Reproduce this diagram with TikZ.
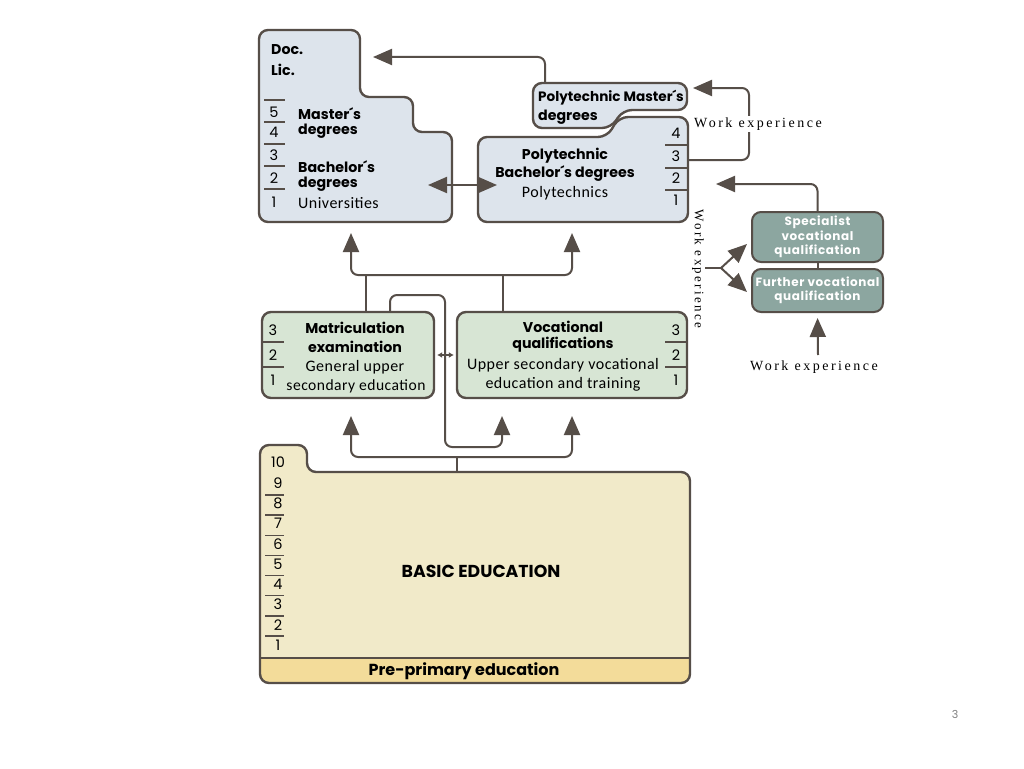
\documentclass[tikz,border=0pt]{standalone}
\usepackage{fontspec}
\setmainfont{Poppins}
\newfontfamily\condfont[LetterSpace=3]{Carlito}
\newfontfamily\workfont[LetterSpace=18]{Liberation Serif}
\newfontfamily\greyfont[LetterSpace=5]{Poppins}
\usetikzlibrary{arrows.meta}

\definecolor{edgegray}{HTML}{564E48}
\definecolor{unifill}{HTML}{DDE4EC}
\definecolor{secfill}{HTML}{D7E5D4}
\definecolor{basicfill}{HTML}{F1EAC9}
\definecolor{prefill}{HTML}{F3DC9A}
\definecolor{furtherfill}{HTML}{8CA6A0}

\tikzset{
  outline/.style={draw=edgegray, line width=2.4pt, rounded corners=9pt},
  title/.style={font=\fontsize{14.2}{16}\selectfont\bfseries, inner sep=0pt},
  cond/.style={font=\condfont\fontsize{16}{18}\selectfont, inner sep=0pt},
  num/.style={font=\fontsize{14.5}{16}\selectfont, inner sep=0pt},
  tick/.style={draw=edgegray, line width=1.4pt},
  link/.style={draw=edgegray, line width=2pt, rounded corners=7pt},
  arrow/.style={-{Triangle[length=19pt,width=16pt]}},
  twoarrow/.style={{Triangle[length=19pt,width=16pt]}-{Triangle[length=19pt,width=16pt]}},
  work/.style={font=\workfont\fontsize{14}{16}\selectfont, inner sep=2pt, fill=white},
  greybox/.style={draw=edgegray, line width=2pt, rounded corners=9pt, fill=furtherfill,
    minimum width=131pt, inner sep=0pt},
  greytext/.style={font=\greyfont\fontsize{12}{14.5}\selectfont\bfseries, text=white, align=center, inner sep=0pt}
}

\begin{document}
\begin{tikzpicture}[x=1pt, y=-1pt]
    \fill[white] (0,0) rectangle (1024,768);
    \useasboundingbox (0,0) rectangle (1024,768);

    % Universities
    \draw[outline, fill=unifill] (259,30) -- (360,30) -- (360,97) -- (413,97) -- (413,132)
        -- (452,132) -- (452,222) -- (259,222) -- cycle;
    \node[title, anchor=west] (docLabel) at (271,50) {Doc.};
    \node[title, anchor=west] (licLabel) at (271,70) {Lic.};
    \foreach \n/\y in {5/112, 4/132, 3/155, 2/178, 1/202}
        \node[num] (uniNum\n) at (274,\y) {\n};
    \foreach \y in {100, 122, 144, 166, 189}
        \draw[tick] (264,\y) -- (285,\y);
    \node[title, anchor=west] (uniMaster) at (298,114) {Master´s};
    \node[title, anchor=west] (uniMasterDeg) at (298,131) {degrees};
    \node[title, anchor=west] (uniBachelor) at (298,167) {Bachelor´s};
    \node[title, anchor=west] (uniBachelorDeg) at (298,184) {degrees};
    \node[cond, anchor=west] (uniName) at (298,203) {Universities};

    % Polytechnics
    \draw[outline, fill=unifill] (533,83) -- (687,83) -- (687,110) -- (623,110) -- (611,128)
        -- (533,128) -- cycle;
    \node[title, font=\fontsize{13.6}{15}\selectfont\bfseries, anchor=west] (polyMaster) at (538,98) {Polytechnic Master´s};
    \node[title, anchor=west] (polyMasterDeg) at (538,117) {degrees};
    \draw[outline, fill=unifill] (478,137) -- (607,137) -- (619,117) -- (688,117) -- (688,222)
        -- (478,222) -- cycle;
    \node[title] (polyTitle) at (565,156) {Polytechnic};
    \node[title] (polyBachelor) at (565,174) {Bachelor´s degrees};
    \node[cond] (polyName) at (565,193) {Polytechnics};
    \foreach \n/\y in {4/133, 3/156, 2/178, 1/200}
        \node[num] (polyNum\n) at (676,\y) {\n};
    \foreach \y in {145, 168, 190}
        \draw[tick] (665,\y) -- (687,\y);

    % Upper secondary
    \node[draw=edgegray, line width=2.4pt, rounded corners=9pt, fill=secfill, minimum width=172pt,
        minimum height=86pt] (matric) at (348,355) {};
    \node[draw=edgegray, line width=2.4pt, rounded corners=9pt, fill=secfill, minimum width=230pt,
        minimum height=86pt] (voc) at (572,355) {};
    \foreach \n/\y in {3/330, 2/355, 1/380} {
        \node[num] (matricNum\n) at (273,\y) {\n};
        \node[num] (vocNum\n) at (676,\y) {\n};
    }
    \foreach \y in {342, 367} {
        \draw[tick] (263,\y) -- (284,\y);
        \draw[tick] (665,\y) -- (687,\y);
    }
    \node[title] (matricTitle) at (355,328) {Matriculation};
    \node[title] (matricExam) at (355,347) {examination};
    \node[cond] (matricGen) at (355,367) {General upper};
    \node[cond, font=\condfont\fontsize{15.6}{18}\selectfont] (matricSec) at (356,386) {secondary education};
    \node[title] (vocTitle) at (563,327) {Vocational};
    \node[title] (vocQual) at (563,345) {qualifications};
    \node[cond] (vocUpper) at (563,365) {Upper secondary vocational};
    \node[cond] (vocTrain) at (563,384) {education and training};

    % Basic education
    \def\basicpath{(260,445) -- (307,445) -- (307,472) -- (690,472) -- (690,683) -- (260,683) -- cycle}
    \fill[basicfill, rounded corners=9pt] \basicpath;
    \begin{scope}
        \clip[rounded corners=9pt] \basicpath;
        \fill[prefill] (250,658) rectangle (700,690);
    \end{scope}
    \draw[edgegray, line width=2pt] (260,658) -- (690,658);
    \draw[outline] \basicpath;
    \node[num] (basicNum10) at (278,462) {10};
    \foreach \n in {9,...,1}
        \node[num] (basicNum\n) at (278,{483+(9-\n)*20.25}) {\n};
    \foreach \k in {0,...,7}
        \draw[tick] (265,{495+\k*20.15}) -- (284,{495+\k*20.15});
    \node[font=\fontsize{17.3}{19}\selectfont\bfseries, inner sep=0pt] (basicTitle) at (481,571) {BASIC EDUCATION};
    \node[font=\fontsize{16}{18}\selectfont\bfseries, inner sep=0pt] (preTitle) at (464,671) {Pre-primary education};

    % Further vocational
    \node[greybox, minimum height=50pt] (spec) at (817.5,237) {};
    \node[greytext] (specText) at (spec) {Specialist\\vocational\\qualification};
    \node[greybox, minimum height=43pt] (further) at (817.5,290.5) {};
    \node[greytext] (furtherText) at (further) {Further vocational\\qualification};
    \draw[link] (spec.south) -- (further.north);

    % Connectors
    \coordinate (docTip) at (373,57);
    \coordinate (masterTop) at (545,83);
    \draw[link, arrow] (masterTop) |- (docTip);

    \coordinate (bachRight) at (688,160);
    \coordinate (masterTip) at (693,88);
    \draw[link, arrow] (bachRight) -- (749,160) -- (749,88) -- (masterTip);
    \node[work] (workTop) at (758,124) {Work experience};

    \coordinate (bachTip) at (716,184);
    \draw[link, arrow] (spec.north) |- (bachTip);

    \coordinate (uniSide) at (428,185);
    \coordinate (polySide) at (497,185);
    \draw[link, twoarrow] (uniSide) -- (polySide);

    \node[work, rotate=-90, fill=none, font=\workfont\fontsize{13}{15}\selectfont] (workSide) at (698,269) {Work experience};
    \coordinate (forkStart) at (705,268);
    \coordinate (forkMid) at (721,268);
    \draw[link] (forkStart) -- (forkMid);
    \draw[link, arrow] (forkMid) -- (747,244);
    \draw[link, arrow] (forkMid) -- (747,292);

    \node[work, fill=none] (workBottom) at (814,367) {Work experience};
    \draw[link, arrow, shorten >=5pt] (818,355) -- (further.south);

    % up to higher education
    \coordinate (uniTip) at (351,233);
    \coordinate (polyTip) at (572,233);
    \draw[link, twoarrow] (uniTip) -- (351,275) -- (572,275) -- (polyTip);
    \draw[link] (366,0 |- matric.north) -- (366,275);
    \draw[link] (503,0 |- voc.north) -- (503,275);
    \draw[link, {Latex[length=5pt,width=6pt]}-{Latex[length=5pt,width=6pt]}, shorten <=2pt, shorten >=2pt] (matric.east) -- (voc.west);

    % up from basic education
    \coordinate (matricTip) at (351,416);
    \coordinate (vocTipA) at (502,416);
    \coordinate (vocTipB) at (572,416);
    \draw[link, twoarrow] (matricTip) -- (351,457) -- (572,457) -- (vocTipB);
    \draw[link] (457,472) -- (457,457);
    \draw[link, arrow] (390,0 |- matric.north) -- (390,295) -- (445,295) -- (445,447) -- (502,447) -- (vocTipA);

    \node[font=\fontsize{11}{13}\selectfont, text=gray, inner sep=0pt] (pageNum) at (955,714) {3};
\end{tikzpicture}
\end{document}
